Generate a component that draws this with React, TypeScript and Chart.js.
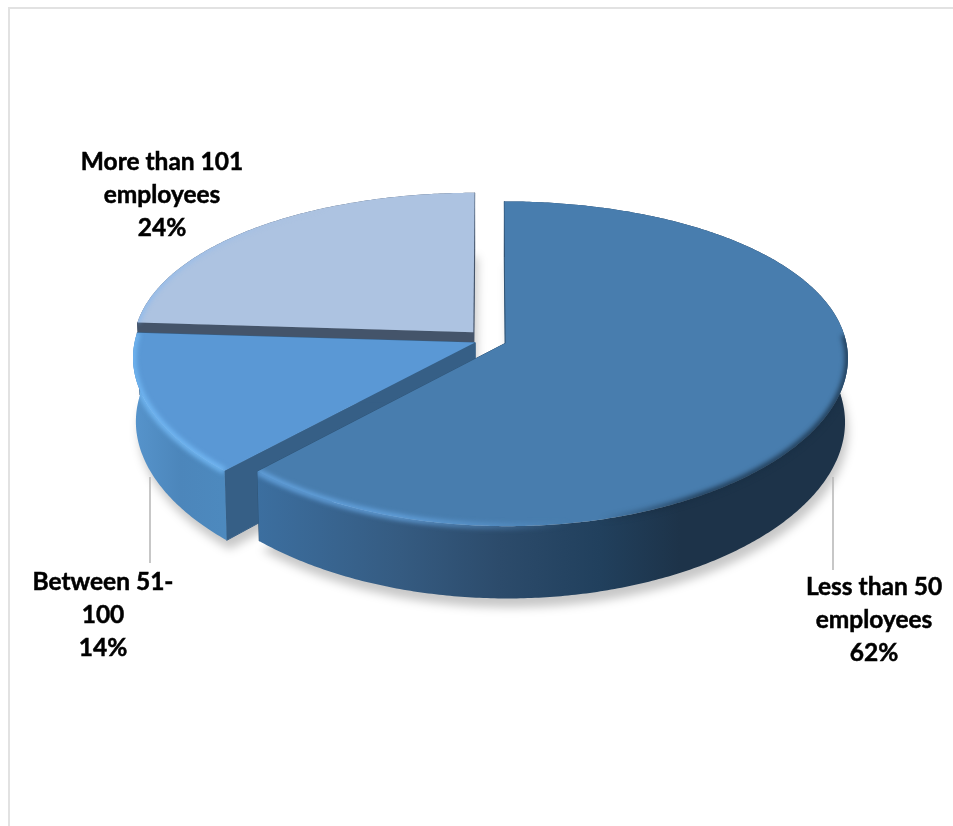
import React, { useEffect, useRef } from "react";
import { Chart, registerables } from "chart.js";

Chart.register(...registerables);

// Survey shares by company size
const categories = ["Less than 50 employees", "Between 51-100", "More than 101 employees"];
const values = [62, 14, 24];
const labelLines = [
  ["Less than 50", "employees"],
  ["Between 51-", "100"],
  ["More than 101", "employees"],
];
const explode = [18, 15, 23];

const faceColors = ["#487dae", "#5a98d5", "#adc3e1"];
const cutColors = ["#2f5578", "#365f86", "#44546a"];

const WIDTH = 953;
const HEIGHT = 826;
const TILT = 0.4676; // vertical squash of the disc
const PERSPECTIVE_Y = 0.127; // near edge drops further than the far edge rises
const PERSPECTIVE_X = 0.09; // near edge widens
const THICKNESS = 0.185; // wall height relative to radius
const FONT = 'bold 24.5px Lato, "Open Sans", sans-serif';

type Pt = [number, number];

function project(arc: any, dx: number, dy: number, lower: boolean): Pt {
  const R = arc.outerRadius;
  const v = dy / R;
  const sy = 1 / (1 - PERSPECTIVE_Y * v);
  const sx = 1 / (1 - PERSPECTIVE_X * v);
  const depth = lower ? THICKNESS * R : 0;
  const inset = lower ? 0.992 : 1;
  return [arc.x + dx * sx * inset, arc.y + TILT * R * v * sy + depth * sy];
}

function apexOffset(arc: any): Pt {
  const mid = (arc.startAngle + arc.endAngle) / 2;
  const o = arc.options.offset || 0;
  return [Math.cos(mid) * o, Math.sin(mid) * o];
}

function rimPoints(arc: any, a0: number, a1: number, lower: boolean): Pt[] {
  const [ox, oy] = apexOffset(arc);
  const R = arc.outerRadius;
  const n = Math.max(2, Math.ceil(Math.abs(a1 - a0) / 0.01));
  const pts: Pt[] = [];
  for (let i = 0; i <= n; i++) {
    const a = a0 + ((a1 - a0) * i) / n;
    pts.push(project(arc, ox + Math.cos(a) * R, oy + Math.sin(a) * R, lower));
  }
  return pts;
}

function trace(ctx: CanvasRenderingContext2D, pts: Pt[], close = true) {
  ctx.beginPath();
  pts.forEach(([x, y], i) => (i ? ctx.lineTo(x, y) : ctx.moveTo(x, y)));
  if (close) ctx.closePath();
}

function facePoints(arc: any, lower: boolean): Pt[] {
  const [ox, oy] = apexOffset(arc);
  return [project(arc, ox, oy, lower), ...rimPoints(arc, arc.startAngle, arc.endAngle, lower)];
}

function cutWall(arc: any, angle: number): Pt[] {
  const [ox, oy] = apexOffset(arc);
  const R = arc.outerRadius;
  const ex = ox + Math.cos(angle) * R;
  const ey = oy + Math.sin(angle) * R;
  return [project(arc, ox, oy, false), project(arc, ex, ey, false), project(arc, ex, ey, true), project(arc, ox, oy, true)];
}

function horizontal(ctx: CanvasRenderingContext2D, stops: [number, string][]) {
  const g = ctx.createLinearGradient(0, 0, WIDTH, 0);
  stops.forEach(([x, c]) => g.addColorStop(x / WIDTH, c));
  return g;
}

const pie3d = {
  id: "pie3d",
  beforeDatasetsDraw(chart: any) {
    const ctx: CanvasRenderingContext2D = chart.ctx;
    const arcs: any[] = chart.getDatasetMeta(0).data;

    // card edge
    ctx.fillStyle = "#e2e2e2";
    ctx.fillRect(8, 7, WIDTH - 8, 2);
    ctx.fillRect(8, 7, 2, HEIGHT - 7);

    // soft ground shadow under every slice
    ctx.save();
    ctx.filter = "blur(5px)";
    ctx.fillStyle = "rgba(0,0,0,0.22)";
    arcs.forEach((arc) => {
      ctx.save();
      ctx.translate(3, 9);
      trace(ctx, facePoints(arc, true));
      ctx.fill();
      ctx.restore();
    });
    ctx.restore();

    const wallFill = [
      horizontal(ctx, [
        [255, "#3c6fa0"],
        [400, "#355b81"],
        [500, "#2c4b6b"],
        [600, "#21405d"],
        [680, "#1d3349"],
        [850, "#1d3349"],
      ]),
      horizontal(ctx, [
        [130, "#5795cd"],
        [180, "#4c86bb"],
        [235, "#4d8abf"],
      ]),
      horizontal(ctx, [[0, "#44546a"], [WIDTH, "#44546a"]]),
    ];

    const rimStroke = [
      horizontal(ctx, [
        [255, "rgba(105,170,232,0.85)"],
        [400, "rgba(105,170,232,0.8)"],
        [500, "rgba(105,170,232,0.35)"],
        [570, "rgba(105,170,232,0)"],
        [600, "rgba(20,40,60,0)"],
        [700, "rgba(25,48,70,0.85)"],
        [850, "rgba(25,48,70,0.85)"],
      ]),
      horizontal(ctx, [
        [130, "rgba(115,185,245,0.95)"],
        [235, "rgba(115,185,245,0.95)"],
      ]),
      horizontal(ctx, [
        [140, "rgba(120,180,245,0.9)"],
        [230, "rgba(140,185,240,0.5)"],
        [330, "rgba(173,195,225,0)"],
      ]),
    ];

    // far slices first so the nearer ones overlap them
    [2, 1, 0].forEach((i) => {
      const arc = arcs[i];
      ctx.save();
      ctx.lineJoin = "round";

      [arc.startAngle, arc.endAngle].forEach((angle) => {
        trace(ctx, cutWall(arc, angle));
        ctx.fillStyle = cutColors[i];
        ctx.strokeStyle = cutColors[i];
        ctx.lineWidth = 1;
        ctx.fill();
        ctx.stroke();
      });

      const upper = rimPoints(arc, arc.startAngle, arc.endAngle, false);
      const lower = rimPoints(arc, arc.startAngle, arc.endAngle, true);
      const wallPts = [...upper, ...lower.reverse()];
      trace(ctx, wallPts);
      ctx.fillStyle = wallFill[i];
      ctx.fill();

      trace(ctx, facePoints(arc, false));
      ctx.fillStyle = arc.options.backgroundColor;
      ctx.fill();

      // bevel along the outer edge of the top face, kept inside the slice outline
      ctx.save();
      const clip = new Path2D();
      [facePoints(arc, false), wallPts].forEach((poly) => {
        poly.forEach(([x, y], k) => (k ? clip.lineTo(x, y) : clip.moveTo(x, y)));
        clip.closePath();
      });
      ctx.clip(clip, "nonzero");
      const a0 = i === 0 ? -0.05 : arc.startAngle;
      ctx.filter = "blur(2.5px)";
      trace(ctx, rimPoints(arc, a0, arc.endAngle, false), false);
      ctx.strokeStyle = rimStroke[i];
      ctx.lineWidth = i === 2 ? 3 : 6;
      ctx.stroke();
      ctx.restore();

      ctx.restore();
    });

    // leader lines
    ctx.strokeStyle = "#b4b4b4";
    ctx.lineWidth = 1.5;
    [
      [150, 477, 563],
      [833, 477, 570],
    ].forEach(([x, y0, y1]) => {
      ctx.beginPath();
      ctx.moveTo(x, y0);
      ctx.lineTo(x, y1);
      ctx.stroke();
    });

    // data labels: category lines followed by the share
    const anchors: Pt[] = [
      [874, 595],
      [103, 590],
      [162, 170],
    ];
    ctx.font = FONT;
    ctx.fillStyle = "#000";
    ctx.strokeStyle = "#000";
    ctx.lineWidth = 0.5;
    ctx.textAlign = "center";
    ctx.textBaseline = "alphabetic";
    anchors.forEach(([x, y], i) => {
      [...labelLines[i], `${chart.data.datasets[0].data[i]}%`].forEach((t, l) => {
        ctx.fillText(t, x, y + l * 32.8);
        ctx.strokeText(t, x, y + l * 32.8);
      });
    });

    return false;
  },
};

export default function App() {
  const ref = useRef<HTMLCanvasElement>(null);
  useEffect(() => {
    const chart = new Chart(ref.current!, {
      type: "pie",
      data: {
        labels: categories,
        datasets: [
          {
            data: values,
            backgroundColor: faceColors,
            offset: explode,
            borderWidth: 0,
          },
        ],
      },
      options: {
        animation: false,
        responsive: false,
        radius: 340,
        layout: { padding: { left: 100, right: 75, top: 0, bottom: 146 } },
        plugins: { legend: { display: false }, tooltip: { enabled: false } },
      } as any,
      plugins: [pie3d as any],
    });
    return () => chart.destroy();
  }, []);
  return (
    <canvas
      ref={ref}
      width={WIDTH}
      height={HEIGHT}
      style={{ position: "absolute", left: 0, top: 0, width: WIDTH, height: HEIGHT, background: "#fff" }}
    />
  );
}
